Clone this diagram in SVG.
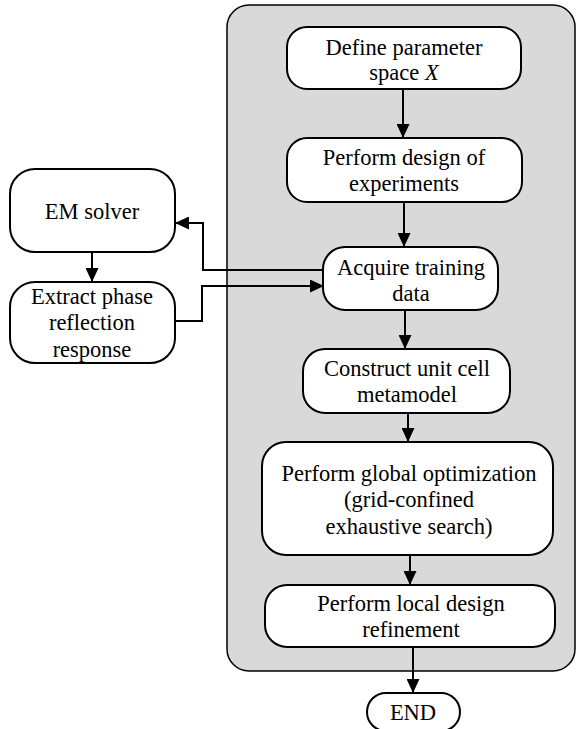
<svg xmlns="http://www.w3.org/2000/svg" width="576" height="729" viewBox="0 0 576 729">
<style>
.box{fill:#fff;stroke:#000;stroke-width:2}
.t{font-family:"Liberation Serif","Times New Roman",serif;font-size:22.5px;fill:#000;text-anchor:middle}
.c{fill:none;stroke:#000;stroke-width:2}
</style>
<defs>
<marker id="ah" viewBox="0 0 14 13" refX="14" refY="6.5" markerWidth="14" markerHeight="13" markerUnits="userSpaceOnUse" orient="auto">
<path d="M0,0 L14,6.5 L0,13 Z" fill="#000"/>
</marker>
</defs>
<rect id="panel" x="227" y="5" width="348" height="666" rx="22" fill="#d9d9d9" stroke="#000" stroke-width="1.5"/>
<g id="connectors">
<line class="c" x1="403" y1="89" x2="403" y2="138" marker-end="url(#ah)"/>
<line class="c" x1="404" y1="202" x2="404" y2="247" marker-end="url(#ah)"/>
<line class="c" x1="405" y1="310" x2="405" y2="349" marker-end="url(#ah)"/>
<line class="c" x1="408" y1="413" x2="408" y2="442" marker-end="url(#ah)"/>
<line class="c" x1="410" y1="555" x2="410" y2="585" marker-end="url(#ah)"/>
<line class="c" x1="413" y1="647" x2="413" y2="693" marker-end="url(#ah)"/>
<line class="c" x1="92" y1="252" x2="92" y2="282" marker-end="url(#ah)"/>
<polyline class="c" points="324,270 203,270 203,223 175,223" marker-end="url(#ah)"/>
<polyline class="c" points="175,321 202,321 202,286 324,286" marker-end="url(#ah)"/>
</g>
<g id="n1">
<rect class="box" x="287" y="27" width="234" height="62" rx="20"/>
<text class="t" x="404" y="55">Define parameter</text>
<text class="t" x="404" y="80">space <tspan font-style="italic">X</tspan></text>
</g>
<g id="n2">
<rect class="box" x="287" y="138" width="235" height="64" rx="20"/>
<text class="t" x="404" y="165">Perform design of</text>
<text class="t" x="404" y="191">experiments</text>
</g>
<g id="n3">
<rect class="box" x="323" y="247" width="175" height="63" rx="22"/>
<text class="t" x="411" y="275">Acquire training</text>
<text class="t" x="411" y="301">data</text>
</g>
<g id="n4">
<rect class="box" x="303" y="349" width="207" height="64" rx="22"/>
<text class="t" x="407" y="376">Construct unit cell</text>
<text class="t" x="407" y="402">metamodel</text>
</g>
<g id="n5">
<rect class="box" x="262" y="442" width="291" height="113" rx="24"/>
<text class="t" x="409" y="481">Perform global optimization</text>
<text class="t" x="409" y="507">(grid-confined</text>
<text class="t" x="409" y="534">exhaustive search)</text>
</g>
<g id="n6">
<rect class="box" x="265" y="585" width="290" height="62" rx="22"/>
<text class="t" x="411" y="611">Perform local design</text>
<text class="t" x="411" y="637">refinement</text>
</g>
<g id="end">
<rect class="box" x="367" y="693" width="93" height="38" rx="19"/>
<text class="t" x="413" y="720">END</text>
</g>
<g id="em">
<rect class="box" x="10" y="169" width="165" height="83" rx="25"/>
<text class="t" x="92" y="219">EM solver</text>
</g>
<g id="extract">
<rect class="box" x="10" y="282" width="165" height="81" rx="25"/>
<text class="t" x="92" y="304">Extract phase</text>
<text class="t" x="92" y="330">reflection</text>
<text class="t" x="92" y="357">response</text>
</g>
</svg>
